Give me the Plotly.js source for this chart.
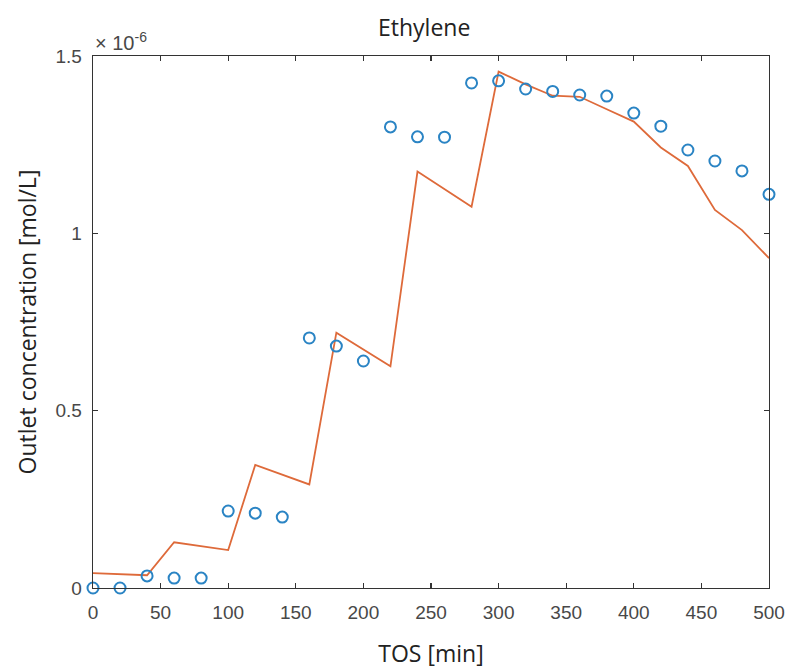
<!DOCTYPE html>
<html>
<head>
<meta charset="utf-8">
<script src="https://cdn.plot.ly/plotly-3.0.1.min.js"></script>
<style>html,body{margin:0;padding:0;background:#fff;}#chart{width:787px;height:669px;}</style>
</head>
<body>
<div id="chart"></div>
<script>
// values in units of 1e-6 mol/L
const tos = [0,20,40,60,80,100,120,140,160,180,200,220,240,260,280,300,320,340,360,380,400,420,440,460,480,500];
const measured = [0.0,0.0,0.034,0.028,0.028,0.217,0.211,0.200,0.705,0.682,0.640,1.300,1.272,1.271,1.424,1.430,1.407,1.400,1.390,1.387,1.339,1.302,1.235,1.204,1.176,1.110];
const model = [0.042,0.039,0.036,0.129,0.118,0.107,0.347,0.320,0.292,0.720,0.672,0.625,1.174,1.125,1.075,1.456,1.420,1.388,1.385,1.350,1.315,1.242,1.190,1.066,1.009,0.930];
const xTicks = [0,50,100,150,200,250,300,350,400,450,500];
const yTicks = [0,0.5,1,1.5];
const yTickText = ["0","0.5","1","1.5"];

const traces = [
  {x: tos, y: model, mode: 'lines', line: {color: '#DE6A3A', width: 1.8}, cliponaxis: false, hoverinfo: 'skip'},
  {x: tos, y: measured, mode: 'markers', cliponaxis: false,
   marker: {symbol: 'circle-open', size: 11, color: '#2A84C4', line: {width: 2, color: '#2A84C4'}}}
];
const axisCommon = {showgrid: false, zeroline: false, showline: true, linecolor: '#333', linewidth: 1.4,
  ticks: 'inside', ticklen: 5, tickcolor: '#333', tickwidth: 1.3, mirror: 'ticks',
  tickfont: {family: 'Liberation Sans, Arial, sans-serif', size: 19, color: '#484848'}};
const layout = {
  width: 787, height: 669, showlegend: false,
  paper_bgcolor: '#fff', plot_bgcolor: '#fff',
  margin: {l: 93, r: 18, t: 56, b: 81},
  title: {text: 'Ethylene', x: 0.539, xanchor: 'center', y: 0.958, yanchor: 'middle',
    font: {family: 'Open Sans, sans-serif', size: 23, color: '#222'}},
  xaxis: Object.assign({}, axisCommon, {range: [0, 500], tickvals: xTicks, ticklabelstandoff: 7,
    title: {text: 'TOS [min]', standoff: 24, font: {family: 'Open Sans, sans-serif', size: 23, color: '#222'}}}),
  yaxis: Object.assign({}, axisCommon, {range: [0, 1.5], tickvals: yTicks, ticktext: yTickText, ticklabelstandoff: 6,
    title: {text: 'Outlet concentration [mol/L]', standoff: 12, font: {family: 'Open Sans, sans-serif', size: 23, color: '#222'}}}),
  annotations: [{xref: 'paper', yref: 'paper', x: 0, y: 1, xanchor: 'left', yanchor: 'bottom', xshift: 0, yshift: 0,
    showarrow: false, text: '× 10<sup>-6</sup>', font: {family: 'Liberation Sans, Arial, sans-serif', size: 20, color: '#484848'}}]
};
Plotly.newPlot('chart', traces, layout, {displayModeBar: false, staticPlot: true});
</script>
</body>
</html>
